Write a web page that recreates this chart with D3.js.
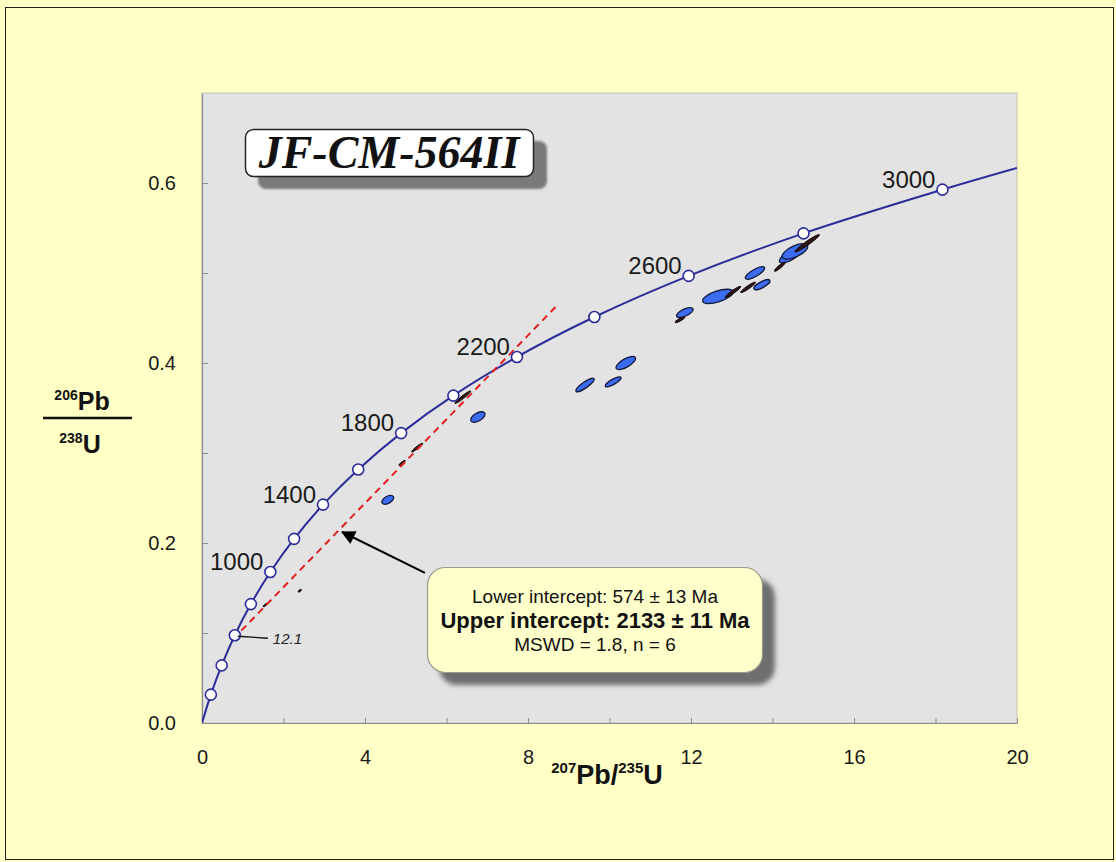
<!DOCTYPE html>
<html>
<head>
<meta charset="utf-8">
<script src="https://cdn.jsdelivr.net/npm/d3@7"></script>
<style>
  html, body { margin: 0; padding: 0; background: #ffffc6; }
  svg { display: block; font-family: "Liberation Sans", Arial, sans-serif; }
</style>
</head>
<body>
<svg id="chart" width="1116" height="862"></svg>
<script>
// ---------------- data ----------------
const sampleName = "JF-CM-564II";

// concordia reference points (age in Ma, 207Pb/235U, 206Pb/238U)
const concAges = [0, 200, 400, 600, 800, 1000, 1200, 1400, 1600, 1800, 2000, 2200, 2400, 2600, 2800, 3000, 3100];
const concX    = [0, 0.2177, 0.4828, 0.8057, 1.1988, 1.6774, 2.2603, 2.9700, 3.8343, 4.8867, 6.1683, 7.7288, 9.6291, 11.9431, 14.7609, 18.17, 20.0];
const concY    = [0, 0.0315, 0.0640, 0.0975, 0.1321, 0.1678, 0.2046, 0.2426, 0.2817, 0.3221, 0.3638, 0.4067, 0.4511, 0.4968, 0.5440, 0.5926, 0.6167];
const markedAges  = [200, 400, 600, 800, 1000, 1200, 1400, 1600, 1800, 2000, 2200, 2400, 2600, 2800, 3000];
const labeledAges = [1000, 1400, 1800, 2200, 2600, 3000];

// discordia (lower intercept -> upper end)
const discX = [0.7601, 8.75];
const discY = [0.0931, 0.4657];

// analyses: centre, half major axis extent (x, y data units), minor/major ratio, group
const ellX     = [11.85, 12.66, 13.57, 13.74, 14.43, 14.55, 9.40, 10.09, 10.40, 6.77, 4.56,
                  11.73, 13.03, 13.40, 14.18, 14.85, 6.40, 5.28, 4.91, 2.40, 1.55];
const ellY     = [0.456, 0.474, 0.500, 0.487, 0.519, 0.524, 0.3756, 0.379, 0.400, 0.340, 0.248,
                  0.448, 0.479, 0.484, 0.507, 0.533, 0.362, 0.306, 0.289, 0.147, 0.131];
const ellSX    = [0.200, 0.373, 0.234, 0.195, 0.255, 0.311, 0.221, 0.191, 0.234, 0.170, 0.138,
                  0.117, 0.191, 0.181, 0.132, 0.301, 0.193, 0.135, 0.077, 0.037, 0.048];
const ellSY    = [0.0042, 0.0055, 0.0061, 0.0047, 0.0067, 0.0066, 0.0070, 0.0050, 0.0061, 0.0044, 0.0036,
                  0.0031, 0.0061, 0.0057, 0.0050, 0.0096, 0.0069, 0.0048, 0.0027, 0.0014, 0.0017];
const ellRatio = [0.39, 0.34, 0.32, 0.33, 0.37, 0.39, 0.27, 0.29, 0.38, 0.50, 0.55,
                  0.22, 0.16, 0.17, 0.21, 0.13, 0.14, 0.17, 0.22, 0.45, 0.35];
const ellGroup = ["blue","blue","blue","blue","blue","blue","blue","blue","blue","blue","blue",
                  "dark","dark","dark","dark","dark","dark","dark","dark","dark","dark"];

// axis ticks
const xTicks = [0, 2, 4, 6, 8, 10, 12, 14, 16, 18, 20];
const xTickLabels = [0, 4, 8, 12, 16, 20];
const yTicks = [0, 0.1, 0.2, 0.3, 0.4, 0.5, 0.6];
const yTickLabels = [0, 0.2, 0.4, 0.6];

// annotations
const statsLines = ["Lower intercept: 574 \u00b1 13 Ma", "Upper intercept: 2133 \u00b1 11 Ma", "MSWD = 1.8, n = 6"];
const spotLabel = "12.1";
const spotAge = 600;
const arrowFrom = [5.47, 0.1667];
const arrowTo = [3.44, 0.2122];

// ---------------- drawing ----------------
const svg = d3.select("#chart");
const W = 1116, H = 862;
const L = 202, R = 1017, T = 93, B = 723;

const x = d3.scaleLinear().domain([0, 20]).range([L, R]);
const y = d3.scaleLinear().domain([0, 0.7]).range([B, T]);

const defs = svg.append("defs");
const blur = defs.append("filter").attr("id", "blur").attr("x", "-10%").attr("y", "-10%").attr("width", "120%").attr("height", "130%");
blur.append("feGaussianBlur").attr("stdDeviation", 2.5);
const blur2 = defs.append("filter").attr("id", "blur2");
blur2.append("feGaussianBlur").attr("stdDeviation", 1);
defs.append("clipPath").attr("id", "plotclip").append("rect")
  .attr("x", L).attr("y", T).attr("width", R - L).attr("height", B - T);
defs.append("marker").attr("id", "arrowhead").attr("viewBox", "0 0 10 10")
  .attr("refX", 9).attr("refY", 5).attr("markerWidth", 16).attr("markerHeight", 14)
  .attr("markerUnits", "userSpaceOnUse").attr("orient", "auto")
  .append("path").attr("d", "M0,0 L10,5 L0,10 z").attr("fill", "#000");

// background & frame
svg.append("rect").attr("width", W).attr("height", H).attr("fill", "#ffffc6");
svg.append("rect").attr("x", 5.5).attr("y", 7.5).attr("width", 1108).attr("height", 852)
  .attr("fill", "none").attr("stroke", "#222").attr("stroke-width", 1);

// plot area
svg.append("rect").attr("x", L).attr("y", T).attr("width", R - L).attr("height", B - T)
  .attr("fill", "#e3e3e3").attr("stroke", "#c4c4b4").attr("stroke-width", 1);

// axes
const xAxis = d3.axisBottom(x).tickValues(xTicks).tickSizeInner(-5).tickSizeOuter(0).tickPadding(27)
  .tickFormat(d => xTickLabels.includes(d) ? d3.format("d")(d) : "");
const gx = svg.append("g").attr("transform", `translate(0,${B})`).call(xAxis);
gx.select(".domain").attr("stroke", "#8c8c8c").attr("stroke-width", 1.2);
gx.selectAll(".tick line").attr("stroke", "#8c8c8c");
gx.selectAll(".tick text").attr("font-size", 20).attr("fill", "#1a1a1a")
  .attr("font-family", "'Liberation Sans', Arial, sans-serif");

const yAxis = d3.axisLeft(y).tickValues(yTicks).tickSizeInner(-6).tickSizeOuter(0).tickPadding(26)
  .tickFormat(d => yTickLabels.some(v => Math.abs(v - d) < 1e-9) ? d3.format(".1f")(d) : "");
const gy = svg.append("g").attr("transform", `translate(${L},0)`).call(yAxis);
gy.select(".domain").attr("stroke", "#8c8c8c").attr("stroke-width", 1.2);
gy.selectAll(".tick line").attr("stroke", "#8c8c8c");
gy.selectAll(".tick text").attr("font-size", 20).attr("fill", "#1a1a1a")
  .attr("font-family", "'Liberation Sans', Arial, sans-serif");

// x axis title
const xt = svg.append("text").attr("x", 607).attr("y", 784).attr("text-anchor", "middle")
  .attr("font-weight", "bold").attr("fill", "#111").attr("font-size", 27);
xt.append("tspan").attr("font-size", 15).attr("dy", -11).text("207");
xt.append("tspan").attr("dy", 11).text("Pb/");
xt.append("tspan").attr("font-size", 15).attr("dy", -11).text("235");
xt.append("tspan").attr("dy", 11).text("U");

// y axis title (fraction)
const yt1 = svg.append("text").attr("x", 82).attr("y", 410).attr("text-anchor", "middle")
  .attr("font-weight", "bold").attr("fill", "#111").attr("font-size", 25);
yt1.append("tspan").attr("font-size", 14).attr("dy", -10).text("206");
yt1.append("tspan").attr("dy", 10).text("Pb");
svg.append("line").attr("x1", 43).attr("x2", 132).attr("y1", 418).attr("y2", 418)
  .attr("stroke", "#111").attr("stroke-width", 2.5);
const yt2 = svg.append("text").attr("x", 80).attr("y", 453).attr("text-anchor", "middle")
  .attr("font-weight", "bold").attr("fill", "#111").attr("font-size", 25);
yt2.append("tspan").attr("font-size", 14).attr("dy", -10).text("238");
yt2.append("tspan").attr("dy", 10).text("U");

const plot = svg.append("g").attr("clip-path", "url(#plotclip)");

// concordia curve
const concPts = concAges.map((a, i) => [concX[i], concY[i]]);
plot.append("path").datum(concPts)
  .attr("d", d3.line().x(d => x(d[0])).y(d => y(d[1])).curve(d3.curveCatmullRom.alpha(0.5)))
  .attr("fill", "none").attr("stroke", "#2c2c9a").attr("stroke-width", 2);

// ellipses
function ellipseGeom(i) {
  const cx = x(ellX[i]), cy = y(ellY[i]);
  const dx = x(ellX[i] + ellSX[i]) - cx;
  const dy = y(ellY[i] + ellSY[i]) - cy;
  const rx = Math.hypot(dx, dy);
  return { cx, cy, rx, ry: rx * ellRatio[i], ang: Math.atan2(dy, dx) * 180 / Math.PI };
}
const ellIdx = d3.range(ellX.length);
const order = ellIdx.filter(i => ellGroup[i] === "blue").concat(ellIdx.filter(i => ellGroup[i] === "dark"));
plot.selectAll("ellipse.analysis").data(order).enter().append("ellipse")
  .attr("class", "analysis")
  .each(function(i) {
    const g = ellipseGeom(i);
    d3.select(this)
      .attr("transform", `translate(${g.cx},${g.cy}) rotate(${g.ang})`)
      .attr("rx", g.rx).attr("ry", Math.max(g.ry, 0.9))
      .attr("fill", ellGroup[i] === "blue" ? "#3b6cef" : "#2a1414")
      .attr("stroke", ellGroup[i] === "blue" ? "#141a3c" : "#180808")
      .attr("stroke-width", ellGroup[i] === "blue" ? 1.3 : 0.9);
  });

// discordia
plot.append("line")
  .attr("x1", x(discX[0])).attr("y1", y(discY[0]))
  .attr("x2", x(discX[1])).attr("y2", y(discY[1]))
  .attr("stroke", "#e02020").attr("stroke-width", 2).attr("stroke-dasharray", "7,5");

// age markers
const markIdx = markedAges.map(a => concAges.indexOf(a));
plot.selectAll("circle.age").data(markIdx).enter().append("circle")
  .attr("class", "age")
  .attr("cx", i => x(concX[i])).attr("cy", i => y(concY[i])).attr("r", 5.5)
  .attr("fill", "#fff").attr("stroke", "#2c2c9a").attr("stroke-width", 1.6);

// age labels
const labIdx = labeledAges.map(a => concAges.indexOf(a));
plot.selectAll("text.age").data(labIdx).enter().append("text")
  .attr("class", "age")
  .attr("x", i => x(concX[i]) - 7).attr("y", i => y(concY[i]) - 2)
  .attr("text-anchor", "end").attr("font-size", 24).attr("fill", "#1a1a1a")
  .text(i => concAges[i]);

// spot label with leader line
const si = concAges.indexOf(spotAge);
svg.append("line").attr("x1", x(concX[si]) + 3).attr("y1", y(concY[si]) + 1)
  .attr("x2", x(concX[si]) + 33).attr("y2", y(concY[si]) + 3)
  .attr("stroke", "#111").attr("stroke-width", 1.3);
svg.append("text").attr("x", x(concX[si]) + 38).attr("y", y(concY[si]) + 9)
  .attr("font-size", 15).attr("font-style", "italic").attr("fill", "#222").text(spotLabel);

// title box
svg.append("rect").attr("x", 258).attr("y", 141).attr("width", 289).attr("height", 48).attr("rx", 8)
  .attr("fill", "#7a7a7a").attr("filter", "url(#blur2)");
svg.append("rect").attr("x", 245.5).attr("y", 129.5).attr("width", 288).attr("height", 47).attr("rx", 8)
  .attr("fill", "#fff").attr("stroke", "#222").attr("stroke-width", 1.5);
svg.append("text").attr("x", 389).attr("y", 168).attr("text-anchor", "middle")
  .attr("font-family", "'Liberation Serif', 'Times New Roman', serif")
  .attr("font-weight", "bold").attr("font-style", "italic").attr("font-size", 46).attr("fill", "#111")
  .text(sampleName);

// arrow
svg.append("line")
  .attr("x1", x(arrowFrom[0])).attr("y1", y(arrowFrom[1]))
  .attr("x2", x(arrowTo[0])).attr("y2", y(arrowTo[1]))
  .attr("stroke", "#000").attr("stroke-width", 2).attr("marker-end", "url(#arrowhead)");

// stats box
svg.append("rect").attr("x", 439).attr("y", 579).attr("width", 336).attr("height", 106).attr("rx", 18)
  .attr("fill", "#6e6e6e").attr("filter", "url(#blur)");
svg.append("rect").attr("x", 427.5).attr("y", 567.5).attr("width", 335).attr("height", 105).attr("rx", 18)
  .attr("fill", "#ffffcc").attr("stroke", "#9a9a8a").attr("stroke-width", 1.2);
const statsY = [603, 628, 651];
const statsSize = [19, 22, 19];
svg.selectAll("text.stats").data(statsLines).enter().append("text")
  .attr("class", "stats")
  .attr("x", 595).attr("y", (d, i) => statsY[i]).attr("text-anchor", "middle")
  .attr("font-size", (d, i) => statsSize[i]).attr("font-weight", (d, i) => i === 1 ? "bold" : "normal")
  .attr("fill", "#111").text(d => d);
</script>
</body>
</html>
